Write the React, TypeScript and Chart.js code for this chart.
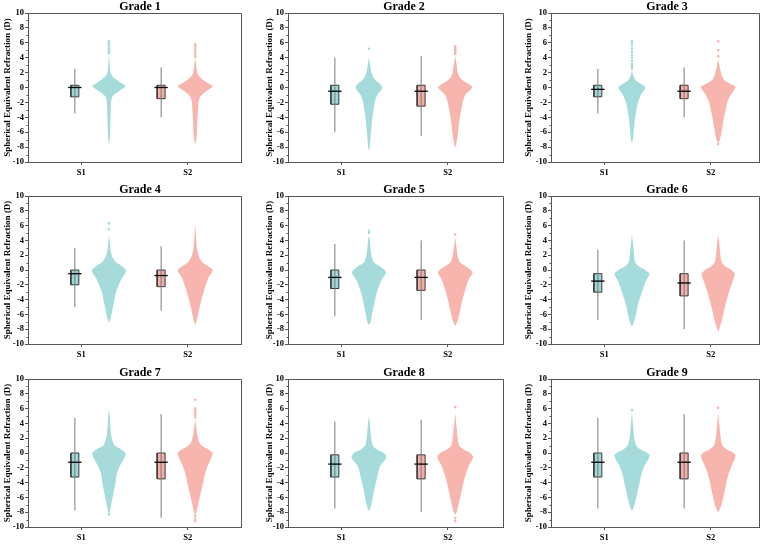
import React, { useEffect, useRef } from 'react';
import { Chart, registerables } from 'chart.js';

Chart.register(...registerables);

// ---------------- DATA ----------------
const GRADES = ['Grade 1', 'Grade 2', 'Grade 3', 'Grade 4', 'Grade 5', 'Grade 6', 'Grade 7', 'Grade 8', 'Grade 9'];
const GROUPS = ['S1', 'S2'];
const Y_TICK_LABELS = [-10, -8, -6, -4, -2, 0, 2, 4, 6, 8, 10];
const Y_TITLE = 'Spherical Equivalent Refraction (D)';

// box stats per grade: [min, q1, median, q3, max]
const BOX_S1 = [
  [-3.5, -1.25, 0, 0.3, 2.5],
  [-6.0, -2.25, -0.5, 0.3, 4.0],
  [-3.5, -1.25, -0.25, 0.3, 2.5],
  [-5.0, -2.0, -0.5, 0.0, 3.0],
  [-6.25, -2.5, -1.0, 0.0, 3.5],
  [-6.75, -3.0, -1.5, -0.5, 2.75],
  [-7.75, -3.25, -1.25, 0.0, 4.75],
  [-7.5, -3.25, -1.5, -0.25, 4.25],
  [-7.5, -3.25, -1.25, 0.0, 4.75],
];
const BOX_S2 = [
  [-4.0, -1.5, 0, 0.3, 2.7],
  [-6.5, -2.5, -0.5, 0.3, 4.2],
  [-4.0, -1.5, -0.5, 0.3, 2.7],
  [-5.5, -2.25, -0.75, 0.0, 3.2],
  [-6.75, -2.75, -1.0, 0.0, 4.0],
  [-8.0, -3.5, -1.75, -0.5, 4.0],
  [-8.75, -3.5, -1.25, 0.0, 5.25],
  [-8.0, -3.5, -1.5, -0.25, 4.5],
  [-7.5, -3.5, -1.25, 0.0, 5.25],
];

// violin density profiles per grade: [refraction value, relative density]
const VIOLIN_S1 = [
  [[4.4, 0], [3.5, 0.6], [2.5, 1], [2, 1.7], [1.5, 3.5], [1, 8], [0.5, 13.5], [0.2, 16.5], [0, 15.5], [-0.4, 11], [-0.8, 6.5], [-1.2, 3.5], [-1.6, 2.5], [-2, 2.1], [-3, 1.8], [-4, 1.6], [-5, 1.4], [-6, 1.1], [-7, 0.7], [-7.6, 0]],
  [[4.1, 0], [3, 1.2], [2, 2.5], [1.5, 4], [1, 6.5], [0.5, 11], [0.1, 13.3], [-0.3, 12.5], [-0.7, 10], [-1, 8.3], [-1.5, 6.8], [-2, 5.8], [-3, 4.6], [-4, 3.5], [-5, 2.7], [-6, 2], [-7, 1.4], [-8, 0.8], [-8.5, 0]],
  [[2.4, 0], [1.5, 1.5], [1, 3.5], [0.5, 9], [0.1, 13.3], [-0.3, 12.5], [-0.7, 10.5], [-1, 9], [-1.5, 7.3], [-2, 6], [-3, 4.5], [-4, 3.2], [-5, 2.4], [-6, 1.7], [-7, 0.9], [-7.4, 0]],
  [[4.7, 0], [3.5, 1], [2.5, 1.8], [2, 2.8], [1.5, 4.5], [1, 7.5], [0.5, 13], [0, 17], [-0.5, 16], [-1, 13.3], [-1.5, 11.5], [-2, 10], [-3, 7], [-4, 5.5], [-5, 4], [-6, 2.5], [-6.7, 1.2], [-7.1, 0]],
  [[4.7, 0], [4, 1], [3, 1.5], [2, 2.5], [1.5, 3.5], [1, 5], [0.5, 10.8], [0, 15.5], [-0.3, 17], [-0.7, 16], [-1, 14.2], [-1.5, 12.2], [-2, 10.5], [-3, 8], [-4, 6.2], [-5, 4.7], [-6, 3], [-7, 1.7], [-7.4, 0]],
  [[4.8, 0], [4, 0.8], [3, 1.5], [2, 2.2], [1, 3.3], [0.5, 6.7], [0, 13.3], [-0.5, 17.5], [-1, 16], [-1.5, 14], [-2, 12.5], [-3, 10], [-4, 7.5], [-5, 5.5], [-6, 4], [-7, 2], [-7.6, 0]],
  [[5.8, 0], [5, 0.8], [4, 1.2], [3, 1.7], [2, 2.8], [1.5, 4], [1, 5.8], [0.5, 12], [0, 16.7], [-0.5, 16], [-1, 14.2], [-1.5, 12], [-2, 10], [-3, 7.5], [-4, 6.7], [-5, 5.2], [-6, 3.7], [-7, 2.2], [-8, 0.8], [-8.2, 0]],
  [[5, 0], [4, 1], [3, 1.5], [2, 2.3], [1, 3.8], [0.5, 7.5], [0, 15], [-0.5, 17.5], [-1, 15.8], [-1.5, 12.5], [-2, 10.5], [-3, 8.7], [-4, 7], [-5, 5.3], [-6, 3.8], [-7, 2.3], [-7.5, 1.2], [-7.8, 0]],
  [[5.5, 0], [4, 1], [3, 1.5], [2, 2.3], [1, 4.3], [0.5, 8.3], [0, 15.5], [-0.3, 17.7], [-0.7, 16.8], [-1, 15.7], [-1.5, 13.5], [-2, 11.7], [-3, 9.2], [-4, 7.7], [-5, 6], [-6, 4.3], [-7, 2.5], [-7.8, 0]],
];
const VIOLIN_S2 = [
  [[3.9, 0], [3, 1], [2, 2], [1.5, 4], [1, 8], [0.5, 14], [0.2, 17.5], [0, 16.5], [-0.4, 12], [-0.8, 8], [-1.2, 5], [-1.6, 4], [-2, 3.3], [-3, 2.8], [-4, 2.4], [-5, 2], [-6, 1.7], [-7, 1], [-7.6, 0]],
  [[4.3, 0], [3, 1.5], [2, 2.5], [1.5, 4], [1, 7], [0.5, 13], [0.1, 17], [-0.3, 15.5], [-0.7, 12], [-1, 10], [-1.5, 8.5], [-2, 7.5], [-3, 6], [-4, 4.7], [-5, 3.7], [-6, 2.8], [-7, 1.8], [-7.7, 0.8], [-8.1, 0]],
  [[3.9, 0], [3, 1.2], [2, 2.8], [1.5, 4], [1, 6], [0.5, 12], [0.1, 17.5], [-0.3, 16], [-0.7, 14], [-1, 12.5], [-1.5, 10.5], [-2, 9], [-3, 7.5], [-4, 5.8], [-5, 4.5], [-6, 3.3], [-7, 1.7], [-7.4, 0]],
  [[6.1, 0], [5, 0.6], [4, 1], [3, 1.7], [2, 3.3], [1.5, 5], [1, 7.5], [0.5, 13], [0, 17.5], [-0.5, 16], [-1, 13.3], [-1.5, 12], [-2, 10.7], [-3, 8.3], [-4, 6.3], [-5, 4.5], [-6, 2.8], [-7, 1.2], [-7.4, 0]],
  [[4.4, 0], [3, 1.3], [2, 2.3], [1.5, 3.3], [1, 5], [0.5, 10.5], [0, 15.5], [-0.3, 17.3], [-0.7, 16.3], [-1, 14.5], [-1.5, 13], [-2, 11.7], [-3, 9.3], [-4, 7.3], [-5, 5.7], [-6, 4], [-7, 2], [-7.5, 0]],
  [[4.7, 0], [4, 0.8], [3, 1.5], [2, 2.2], [1, 3.5], [0.5, 7], [0, 13], [-0.5, 16.7], [-1, 15.8], [-1.5, 14.5], [-2, 13.3], [-3, 10.7], [-4, 8.7], [-5, 6.7], [-6, 5], [-7, 3.3], [-7.8, 1.5], [-8.3, 0]],
  [[4.6, 0], [3.5, 1], [2.5, 2], [2, 2.8], [1.5, 4], [1, 6.5], [0.5, 13], [0, 17.5], [-0.5, 16.5], [-1, 15], [-1.5, 13.3], [-2, 11.7], [-3, 9.5], [-4, 8], [-5, 6.2], [-6, 4.5], [-7, 2.8], [-8, 1.3], [-8.3, 0]],
  [[5.4, 0], [4, 1], [3, 1.7], [2, 2.5], [1, 4], [0.5, 8], [0, 15], [-0.5, 17.8], [-1, 16.7], [-1.5, 14.5], [-2, 13], [-3, 10.3], [-4, 8.3], [-5, 6.7], [-6, 5], [-7, 3.3], [-8, 1.5], [-8.3, 0]],
  [[5.4, 0], [4, 1], [3, 1.7], [2, 2.5], [1, 4.3], [0.5, 8.3], [0, 15.3], [-0.3, 17.3], [-0.7, 16.8], [-1, 16], [-1.5, 14.2], [-2, 12.7], [-3, 10], [-4, 8.2], [-5, 6.7], [-6, 5], [-7, 3.3], [-7.6, 1.5], [-8, 0]],
];

// outlier values per grade
const OUTLIERS_S1 = [
  [4.6, 4.9, 5.2, 5.5, 5.8, 6.0, 6.2],
  [5.2],
  [2.6, 2.9, 3.2, 3.6, 4.0, 4.4, 4.8, 5.2, 5.6, 5.9, 6.2],
  [5.5, 6.3],
  [5.0, 5.3],
  [],
  [-8.3],
  [],
  [5.8],
];
const OUTLIERS_S2 = [
  [4.1, 4.4, 4.7, 5.0, 5.3, 5.6, 5.8],
  [4.5, 4.7, 4.9, 5.1, 5.3, 5.5],
  [4.2, 5.0, 6.2, -7.6],
  [],
  [4.8],
  [],
  [4.8, 5.1, 5.4, 5.7, 6.0, 7.2, -8.5, -8.9, -9.2],
  [6.2, -8.8, -9.2],
  [6.1],
];

// ---------------- LAYOUT / STYLE ----------------
const FONT = "'Liberation Serif', 'Times New Roman', serif";
const TICK_X = [1, 3];
const BOX_X = [0.88, 2.5];
const VIOLIN_X = [1.52, 3.14];
const BOX_HW = 0.075;
const MED_HW = 0.125;
const DENSITY_SCALE = 1 / 53.25;
const VIOLIN_COLORS = ['#a6dbdb', '#f7b5ae'];
const BOX_COLORS = ['#9dd7d7', '#f5aea8'];
const AXIS_COLOR = '#555';

const COL_LEFT = [0, 262, 521];
const COL_YW = [28, 26, 30];
const COL_AREA_W = [213, 215, 208];
const COL_RW = [39, 43, 54];
const ROW_TOP = [0, 183, 366];
const ROW_AREA_H = [149, 148, 148];
const TITLE_H = 13;
const XAXIS_H = 18;

const isMajor = (v: number) => Y_TICK_LABELS.includes(v);

const framePlugin = {
  id: 'frame',
  afterDraw(chart: any) {
    const { ctx, chartArea: a } = chart;
    const l = Math.round(a.left) + 0.5;
    const r = Math.round(a.right) + 0.5;
    const t = Math.round(a.top) + 0.5;
    const b = Math.round(a.bottom) + 0.5;
    ctx.save();
    ctx.strokeStyle = AXIS_COLOR;
    ctx.lineWidth = 1;
    ctx.beginPath();
    ctx.moveTo(l, t);
    ctx.lineTo(r, t);
    ctx.lineTo(r, b);
    // minor ticks on the y axis (shorter)
    const ys = chart.scales.y;
    for (let v = -9; v <= 9; v += 2) {
      const py = Math.round(ys.getPixelForValue(v)) + 0.5;
      ctx.moveTo(l - 2, py);
      ctx.lineTo(l, py);
    }
    ctx.stroke();
    ctx.restore();
  },
};

function violinPoints(profile: number[][], c: number) {
  const right = profile.map(([y, w]) => ({ x: c + w * DENSITY_SCALE, y }));
  const left = profile
    .slice()
    .reverse()
    .filter(([, w], i, arr) => !((i === 0 || i === arr.length - 1) && w === 0))
    .map(([y, w]) => ({ x: c - w * DENSITY_SCALE, y }));
  return [...right, ...left, right[0]];
}

function Panel({ index }: { index: number }) {
  const ref = useRef<HTMLCanvasElement>(null);
  const col = index % 3;
  const row = Math.floor(index / 3);
  const W = COL_YW[col] + COL_AREA_W[col] + COL_RW[col];
  const H = TITLE_H + ROW_AREA_H[row] + XAXIS_H;

  useEffect(() => {
    if (!ref.current) return;
    const datasets: any[] = [];
    for (let g = 0; g < 2; g++) {
      const [mn, q1, med, q3, mx] = (g === 0 ? BOX_S1 : BOX_S2)[index];
      const bx = BOX_X[g];
      const vx = VIOLIN_X[g];
      const profile = (g === 0 ? VIOLIN_S1 : VIOLIN_S2)[index];
      const outs = (g === 0 ? OUTLIERS_S1 : OUTLIERS_S2)[index];
      datasets.push({
        label: GROUPS[g] + ' median',
        data: [{ x: bx - MED_HW, y: med }, { x: bx + MED_HW, y: med }],
        showLine: true, borderColor: '#000', borderWidth: 1.3, pointRadius: 0, order: 0,
      });
      datasets.push({
        label: GROUPS[g] + ' whisker',
        data: [{ x: bx, y: mn }, { x: bx, y: mx }],
        showLine: true, borderColor: '#7a7a7a', borderWidth: 1, pointRadius: 0, order: 1,
      });
      datasets.push({
        label: GROUPS[g] + ' box',
        data: [
          { x: bx - BOX_HW, y: q1 }, { x: bx + BOX_HW, y: q1 }, { x: bx + BOX_HW, y: q3 },
          { x: bx - BOX_HW, y: q3 }, { x: bx - BOX_HW, y: q1 },
        ],
        showLine: true, fill: 'shape', backgroundColor: BOX_COLORS[g], borderColor: '#3a3a3a',
        borderWidth: 1, pointRadius: 0, order: 2,
      });
      datasets.push({
        label: GROUPS[g] + ' outliers',
        data: outs.map((y) => ({ x: vx, y })),
        showLine: false, pointRadius: 1.3, pointBorderWidth: 0,
        pointBackgroundColor: VIOLIN_COLORS[g], backgroundColor: VIOLIN_COLORS[g], order: 3,
      });
      datasets.push({
        label: GROUPS[g] + ' violin',
        data: violinPoints(profile, vx),
        showLine: true, fill: 'shape', backgroundColor: VIOLIN_COLORS[g], borderColor: 'rgba(0,0,0,0)',
        borderWidth: 0, pointRadius: 0, tension: 0.25, order: 4,
      });
    }

    const chart = new Chart(ref.current, {
      type: 'scatter',
      data: { datasets },
      plugins: [framePlugin],
      options: {
        responsive: false,
        animation: false,
        events: [],
        layout: { padding: 0 },
        plugins: {
          legend: { display: false },
          tooltip: { enabled: false },
          title: {
            display: true,
            text: GRADES[index],
            color: '#000',
            font: { family: FONT, size: 12, weight: 'bold', lineHeight: 1 },
            padding: { top: 1, bottom: 0 },
          },
        },
        scales: {
          x: {
            type: 'linear',
            position: 'bottom',
            min: 0,
            max: COL_AREA_W[col] / 53.25,
            afterBuildTicks: (s: any) => { s.ticks = TICK_X.map((v) => ({ value: v })); },
            ticks: {
              autoSkip: false, maxRotation: 0, padding: 3, color: '#000',
              font: { family: FONT, size: 8.5, weight: 'bold' },
              callback: (_v: any, i: number) => GROUPS[i],
            },
            grid: { drawOnChartArea: false, tickLength: 3, color: AXIS_COLOR, tickColor: AXIS_COLOR },
            border: { color: AXIS_COLOR, width: 1 },
            afterFit: (s: any) => { s.height = XAXIS_H; },
          },
          y: {
            type: 'linear',
            position: 'left',
            min: -10,
            max: 10,
            ticks: {
              stepSize: 1, autoSkip: false, padding: 1, color: '#000',
              font: { family: FONT, size: 8.5, weight: 'bold' },
              callback: (v: any) => (isMajor(Number(v)) ? String(v) : ''),
            },
            grid: {
              drawOnChartArea: false, tickLength: 3, color: AXIS_COLOR,
              tickColor: (c: any) => (c.tick && isMajor(c.tick.value) ? AXIS_COLOR : 'rgba(0,0,0,0)'),
            },
            border: { color: AXIS_COLOR, width: 1 },
            title: {
              display: true, text: Y_TITLE, color: '#000',
              font: { family: FONT, size: 9, weight: 'bold', lineHeight: 1.2 },
              padding: { top: 2, bottom: 0 },
            },
            afterFit: (s: any) => { s.width = COL_YW[col]; },
          },
          yR: {
            type: 'linear',
            position: 'right',
            display: true,
            grid: { display: false },
            ticks: { display: false },
            border: { display: false },
            afterFit: (s: any) => { s.width = COL_RW[col]; },
          },
        },
      } as any,
    });
    return () => chart.destroy();
  }, [index]);

  return (
    <canvas
      ref={ref}
      width={W}
      height={H}
      style={{ position: 'absolute', left: COL_LEFT[col], top: ROW_TOP[row], width: W, height: H }}
    />
  );
}

export default function App() {
  return (
    <div style={{ position: 'absolute', left: 0, top: 0, width: 767, height: 544, overflow: 'hidden', background: '#fff' }}>
      {GRADES.map((_, i) => (
        <Panel key={i} index={i} />
      ))}
    </div>
  );
}
